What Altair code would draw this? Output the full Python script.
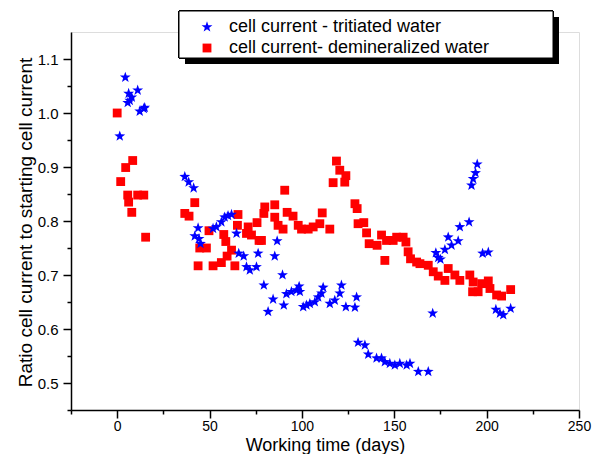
import altair as alt
import pandas as pd

# ---- data ----
trit_days = [1.4, 4.4, 5.7, 6.2, 6.8, 7.9, 11.1, 12.2, 14.4, 14.9,
             36.6, 38.7, 41.4, 42.0, 43.8, 44.3, 45.1, 51.9, 53.7, 56.4,
             58.2, 60.0, 61.9, 64.6, 65.8, 68.5, 70.0, 71.8, 75.4, 76.3,
             79.4, 81.7, 84.4, 85.3, 86.6, 89.5, 90.2, 91.6, 94.3, 97.1,
             98.5, 98.9, 100.7, 102.5, 104.3, 107.0, 108.8, 110.6, 111.5, 115.1,
             117.8, 120.5, 121.4, 123.8, 128.7, 129.6, 130.4, 134.1, 135.9, 140.4,
             143.1, 144.9, 147.6, 150.3, 153.0, 156.7, 158.5, 163.0, 168.4, 170.8,
             172.5, 173.8, 175.0, 177.4, 179.2, 181.0, 184.6, 185.5, 190.5, 191.8,
             192.7, 194.0, 194.9, 197.8, 200.9, 205.0, 207.2, 209.0, 213.0]
trit_vals = [0.957, 1.066, 1.019, 1.036, 1.023, 1.029, 1.042, 1.003, 1.008, 1.010,
             0.882, 0.872, 0.861, 0.772, 0.787, 0.767, 0.758, 0.786, 0.789, 0.798,
             0.807, 0.810, 0.812, 0.777, 0.740, 0.735, 0.715, 0.709, 0.715, 0.740,
             0.681, 0.632, 0.655, 0.735, 0.763, 0.700, 0.644, 0.665, 0.669, 0.672,
             0.679, 0.669, 0.641, 0.644, 0.647, 0.650, 0.659, 0.666, 0.677, 0.647,
             0.653, 0.666, 0.681, 0.641, 0.640, 0.659, 0.575, 0.570, 0.553, 0.546,
             0.546, 0.539, 0.536, 0.533, 0.536, 0.533, 0.536, 0.521, 0.521, 0.629,
             0.741, 0.732, 0.729, 0.747, 0.770, 0.755, 0.763, 0.789, 0.798, 0.866,
             0.878, 0.889, 0.905, 0.740, 0.742, 0.636, 0.629, 0.626, 0.638]

demin_days = [0.0, 1.9, 4.6, 5.7, 6.2, 7.9, 8.4, 11.1, 14.4, 15.4,
              36.6, 38.9, 42.0, 43.8, 44.7, 48.3, 49.7, 51.9, 56.4, 57.7,
              58.8, 59.5, 61.9, 63.7, 65.1, 65.4, 70.0, 70.9, 72.7, 75.7,
              76.8, 78.1, 79.4, 79.9, 85.3, 85.3, 87.1, 89.8, 90.7, 92.0,
              95.2, 98.0, 99.8, 103.4, 106.1, 109.7, 111.0, 115.1, 116.9, 118.7,
              120.5, 123.2, 123.8, 128.7, 129.9, 130.4, 133.5, 135.0, 136.4, 140.7,
              143.1, 144.9, 145.8, 149.4, 151.3, 154.8, 156.3, 157.5, 158.8, 162.1,
              163.9, 168.4, 171.1, 173.8, 177.4, 179.2, 182.8, 185.5, 190.9, 192.4,
              192.7, 195.4, 197.3, 200.9, 201.8, 205.4, 208.1, 213.0]
demin_vals = [1.000, 0.873, 0.899, 0.848, 0.835, 0.816, 0.912, 0.848, 0.848, 0.770,
              0.814, 0.809, 0.834, 0.717, 0.750, 0.750, 0.782, 0.717, 0.723, 0.775,
              0.762, 0.735, 0.746, 0.717, 0.792, 0.812, 0.777, 0.789, 0.774, 0.797,
              0.764, 0.764, 0.814, 0.826, 0.830, 0.807, 0.792, 0.785, 0.857, 0.816,
              0.809, 0.792, 0.785, 0.785, 0.789, 0.795, 0.815, 0.785, 0.871, 0.911,
              0.894, 0.872, 0.884, 0.832, 0.823, 0.795, 0.797, 0.778, 0.758, 0.755,
              0.774, 0.727, 0.764, 0.764, 0.770, 0.770, 0.761, 0.743, 0.730, 0.724,
              0.721, 0.718, 0.706, 0.698, 0.690, 0.712, 0.700, 0.690, 0.700, 0.669,
              0.687, 0.669, 0.684, 0.689, 0.675, 0.663, 0.661, 0.673]

series_names = ["cell current - tritiated water", "cell current- demineralized water"]
x_major = [0, 50, 100, 150, 200, 250]
x_minor = [-25, 25, 75, 125, 175, 225]
y_major = [0.5, 0.6, 0.7, 0.8, 0.9, 1.0, 1.1]
y_minor = [0.45, 0.55, 0.65, 0.75, 0.85, 0.95, 1.05]

df = pd.concat([
    pd.DataFrame({"day": demin_days, "ratio": demin_vals, "series": series_names[1], "z": 0}),
    pd.DataFrame({"day": trit_days, "ratio": trit_vals, "series": series_names[0], "z": 1}),
], ignore_index=True)

STAR = ("M0,-1L0.235,-0.324L0.951,-0.309L0.38,0.124L0.588,0.809L0,0.4"
        "L-0.588,0.809L-0.38,0.124L-0.951,-0.309L-0.235,-0.324Z")
FONT = "Liberation Sans"

xscale = alt.Scale(domain=[-25, 250], nice=False, zero=False)
yscale = alt.Scale(domain=[0.45, 1.15], nice=False, zero=False)

points = alt.Chart(df).mark_point(filled=True, opacity=1).encode(
    x=alt.X("day:Q", scale=xscale,
            axis=alt.Axis(orient="bottom", values=x_major, title="Working time (days)",
                          tickSize=8, tickWidth=1.5, domainWidth=1.5, domainColor="black",
                          tickColor="black", labelFontSize=14, labelFont=FONT, labelColor="black",
                          labelPadding=1, titleFont=FONT, titleFontSize=18, titleFontWeight="normal",
                          titleColor="black", titleY=40, titleBaseline="alphabetic", grid=False,
                          labelFlush=False)),
    y=alt.Y("ratio:Q", scale=yscale,
            axis=alt.Axis(orient="left", values=y_major, format=".1f",
                          title="Ratio cell current to starting cell current",
                          tickSize=8, tickWidth=1.5, domainWidth=1.5, domainColor="black",
                          tickColor="black", labelFontSize=15, labelFont=FONT, labelColor="black",
                          labelPadding=5, titleFont=FONT, titleFontSize=19, titleFontWeight="normal",
                          titleColor="black", titleX=-46, titleY=190, titleAngle=-90,
                          titleBaseline="middle", grid=False, labelFlush=False)),
    color=alt.Color("series:N", scale=alt.Scale(domain=series_names, range=["#0000ff", "#ff0000"]),
                    legend=alt.Legend(title=None, orient="none", legendX=127, legendY=-14,
                                      labelFont=FONT, labelFontSize=18, labelColor="black",
                                      labelLimit=0, symbolSize=90, labelOffset=13, rowPadding=3,
                                      padding=0, symbolStrokeWidth=0)),
    shape=alt.Shape("series:N", scale=alt.Scale(domain=series_names, range=[STAR, "square"])),
    size=alt.Size("series:N", scale=alt.Scale(domain=series_names, range=[130, 78]), legend=None),
    order=alt.Order("z:Q"),
)

minor = alt.Chart(df).mark_point(opacity=0).encode(
    x=alt.X("day:Q", scale=xscale,
            axis=alt.Axis(orient="bottom", values=x_minor, title=None, labels=False,
                          tickSize=4, tickWidth=1.5, domain=False, tickColor="black", grid=False)),
    y=alt.Y("ratio:Q", scale=yscale,
            axis=alt.Axis(orient="left", values=y_minor, title=None, labels=False,
                          tickSize=4, tickWidth=1.5, domain=False, tickColor="black", grid=False)),
)

shadow = alt.Chart(df).mark_rect(color="black").encode(
    x=alt.value(114), x2=alt.value(488), y=alt.value(-15), y2=alt.value(32))
box = alt.Chart(df).mark_rect(fill="white", stroke="black", strokeWidth=1).encode(
    x=alt.value(108), x2=alt.value(482), y=alt.value(-21), y2=alt.value(26))

chart = alt.layer(shadow, box, minor, points).resolve_axis(
    x="independent", y="independent"
).resolve_scale(x="shared", y="shared").properties(
    width=508, height=378,
    autosize=alt.AutoSizeParams(type="none"),
    padding={"left": 63, "top": 24, "right": 14, "bottom": 44},
).configure_view(stroke=None).configure(background="white")

chart.save("out.html", embed_options={"renderer": "svg", "actions": False})
